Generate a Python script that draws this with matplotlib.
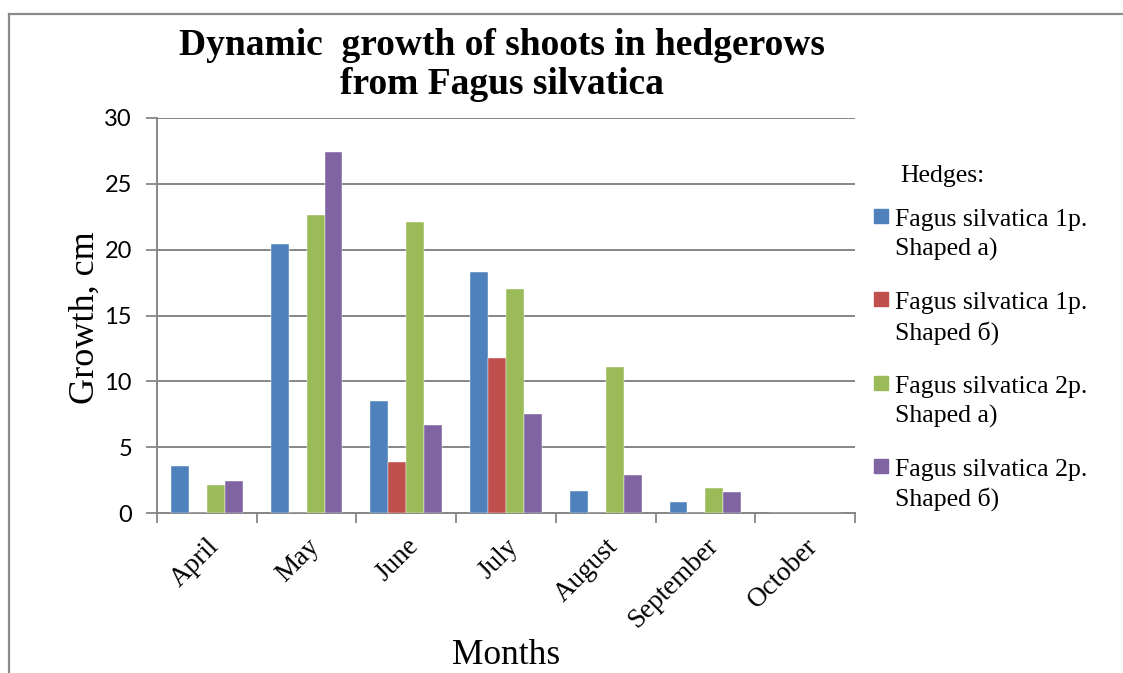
import numpy as np
import matplotlib
matplotlib.use("Agg")
import matplotlib.pyplot as plt
from matplotlib.patches import Rectangle
from matplotlib.lines import Line2D

# Data (growth, cm)
MONTHS = ["April", "May", "June", "July", "August", "September", "October"]
SERIES_NAMES = [
    ("Fagus silvatica 1p.", "Shaped a)"),
    ("Fagus silvatica 1p.", "Shaped б)"),
    ("Fagus silvatica 2p.", "Shaped a)"),
    ("Fagus silvatica 2p.", "Shaped б)"),
]
growth_1p_a = [3.6, 20.4, 8.5, 18.3, 1.7, 0.8, 0.0]
growth_1p_b = [0.0, 0.0, 3.9, 11.8, 0.0, 0.0, 0.0]
growth_2p_a = [2.1, 22.6, 22.1, 17.0, 11.1, 1.9, 0.0]
growth_2p_b = [2.4, 27.4, 6.7, 7.5, 2.9, 1.6, 0.0]
Y_TICKS = [0, 5, 10, 15, 20, 25, 30]

COLORS = ["#4F81BD", "#C0504D", "#9BBB59", "#8064A2"]
GRID = "#868686"
SERIF = "Liberation Serif"

W, H = 1123, 673
fig = plt.figure(figsize=(W / 100, H / 100), dpi=100)

# outer chart border (top and left edges only are visible)
fig.add_artist(Line2D([9 / W, 9 / W], [0, 1 - 14 / H], transform=fig.transFigure,
                      color="#8c8c8c", lw=1.6))
fig.add_artist(Line2D([9 / W, 1], [1 - 14 / H, 1 - 14 / H], transform=fig.transFigure,
                      color="#8c8c8c", lw=1.6))

ax = fig.add_axes([157 / W, 1 - 513 / H, (855 - 157) / W, (513 - 118) / H])

x = np.arange(len(MONTHS))
bar_w = 0.18
all_series = [growth_1p_a, growth_1p_b, growth_2p_a, growth_2p_b]
for i, (vals, col) in enumerate(zip(all_series, COLORS)):
    ax.bar(x + (i - 1.5) * bar_w, vals, bar_w, color=col, edgecolor="white",
           linewidth=0.3, zorder=3)

ax.set_xlim(-0.5, len(MONTHS) - 0.5)
ax.set_ylim(0, 30)
ax.set_yticks(Y_TICKS)
ax.set_yticklabels([str(v) for v in Y_TICKS], fontfamily="Lato", fontsize=17)
ax.yaxis.grid(True, color=GRID, lw=1.4, zorder=0)
ax.tick_params(axis="y", length=8, width=1.3, color=GRID, pad=10)

ax.set_xticks(x)
ax.set_xticklabels(MONTHS, rotation=45, ha="right", va="top", fontfamily=SERIF,
                   fontsize=19.5, rotation_mode="anchor")
ax.set_xticks(np.arange(-0.5, len(MONTHS)), minor=True)
ax.tick_params(axis="x", which="major", length=0, pad=15)
ax.tick_params(axis="x", which="minor", length=7, width=1.3, color=GRID)

for s in ["top", "right"]:
    ax.spines[s].set_visible(False)
for s in ["left", "bottom"]:
    ax.spines[s].set_color(GRID)
    ax.spines[s].set_linewidth(1.4)

# title and axis titles
fig.text(502 / W, 1 - 28 / H, "Dynamic  growth of shoots in hedgerows\nfrom Fagus silvatica",
         ha="center", va="top", fontfamily=SERIF, fontweight="bold", fontsize=27,
         linespacing=1.16)
fig.text(85 / W, 1 - 318 / H, "Growth, cm", rotation=90, ha="center", va="center",
         fontfamily=SERIF, fontsize=26)
fig.text(506 / W, 1 - 655 / H, "Months", ha="center", va="center",
         fontfamily=SERIF, fontsize=25.5)

# legend drawn as in the original: square aligned to first text line
fig.text(900 / W, 1 - 182 / H, "Hedges:", ha="left", va="baseline",
         fontfamily=SERIF, fontsize=18.5)
for i, ((l1, l2), col) in enumerate(zip(SERIES_NAMES, COLORS)):
    base = 226 + i * 83.3
    fig.add_artist(Rectangle((874 / W, 1 - (base - 3) / H), 14 / W, 14 / H,
                             transform=fig.transFigure, color=col))
    fig.text(895 / W, 1 - base / H, l1, ha="left", va="baseline",
             fontfamily=SERIF, fontsize=18.5)
    fig.text(895 / W, 1 - (base + 30) / H, l2, ha="left", va="baseline",
             fontfamily=SERIF, fontsize=18.5)

fig.savefig("out.png", dpi=100)
